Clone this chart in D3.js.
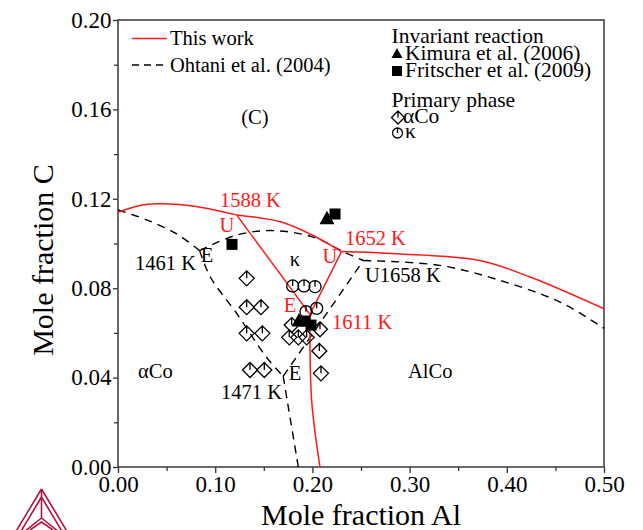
<!DOCTYPE html>
<html>
<head>
<meta charset="utf-8">
<script src="https://cdn.jsdelivr.net/npm/d3@7"></script>
<style>
  body { margin: 0; background: #fff; }
  text { font-family: "Liberation Serif", "Times New Roman", serif; }
</style>
</head>
<body>
<div id="chart"></div>
<script>
// Al-Co-C liquidus projection, Co-rich corner

// --- this work (red, solid)
var redLiqLeft   = [[0, 0.114], [0.025, 0.1172], [0.046, 0.1178], [0.08, 0.1166], [0.122, 0.1128]];
var redLiqMid    = [[0.122, 0.1128], [0.167, 0.1097], [0.2006, 0.1036], [0.230, 0.0964]];
var redLiqRight  = [[0.230, 0.0964], [0.2867, 0.0954], [0.372, 0.0924], [0.424, 0.0850], [0.50, 0.0708]];
var redU1588toE  = [[0.122, 0.1128], [0.1975, 0.0683]];
var redU1652toE  = [[0.230, 0.0964], [0.1975, 0.0683]];
var redEtoBottom = [[0.1975, 0.0683], [0.1992, 0.0299], [0.2078, 0]];

// --- Ohtani et al. (2004) (black, dashed)
var ohtLiqLeft   = [[0, 0.1150], [0.030, 0.1105], [0.060, 0.1044], [0.084, 0.0968]];
var ohtTop       = [[0.084, 0.0968], [0.120, 0.1035], [0.156, 0.1058], [0.200, 0.1030], [0.2335, 0.0960], [0.2524, 0.0924]];
var ohtLiqRight  = [[0.2524, 0.0924], [0.331, 0.0902], [0.393, 0.0835], [0.4547, 0.0738], [0.50, 0.0620]];
var ohtE1461toE  = [[0.084, 0.0968], [0.095, 0.0850], [0.122, 0.0688], [0.153, 0.0490], [0.170, 0.0406]];
var ohtEtoU1658  = [[0.170, 0.0406], [0.2524, 0.0924]];
var ohtEtoBottom = [[0.170, 0.0406], [0.174, 0.0300], [0.1855, 0]];

// --- experimental points
var kimuraTri = [[0.2150, 0.1110], [0.1862, 0.0653]];
var fritscherSq = [[0.2233, 0.1132], [0.1173, 0.0996], [0.1924, 0.0653], [0.1986, 0.0635]];
var primaryCo = [[0.1324, 0.0844], [0.1324, 0.0715], [0.1471, 0.0715], [0.1324, 0.0598], [0.1485, 0.0598],
                 [0.1358, 0.0434], [0.1505, 0.0434], [0.1787, 0.0635], [0.1762, 0.0580], [0.1855, 0.0580],
                 [0.1941, 0.0580], [0.2078, 0.0616], [0.2071, 0.0519], [0.2088, 0.0419]];
var primaryKappa = [[0.1797, 0.0810], [0.1914, 0.0810], [0.2027, 0.0807], [0.1934, 0.0695], [0.2044, 0.0710]];

var xTicks = [0, 0.1, 0.2, 0.3, 0.4, 0.5];
var yTicks = [0, 0.04, 0.08, 0.12, 0.16, 0.2];

// labels anchored in data space: [text, x, y, colour, anchor]
var annotations = [
  ["1588 K", 0.1049, 0.1163, "red", "start"],
  ["U", 0.1121, 0.1051, "red", "middle"],
  ["1652 K", 0.2335, 0.0993, "red", "start"],
  ["U", 0.2181, 0.0913, "red", "middle"],
  ["E", 0.1770, 0.0694, "red", "middle"],
  ["1611 K", 0.2202, 0.0617, "red", "start"],
  ["E", 0.0916, 0.0917, "black", "middle"],
  ["1461 K", 0.0175, 0.0881, "black", "start"],
  ["\u03ba", 0.1821, 0.0899, "black", "middle"],
  ["U1658 K", 0.2541, 0.0828, "black", "start"],
  ["E", 0.1821, 0.0389, "black", "middle"],
  ["1471 K", 0.1060, 0.0304, "black", "start"],
  ["(C)", 0.1409, 0.1535, "black", "middle"],
  ["\u03b1Co", 0.0206, 0.0398, "black", "start"],
  ["AlCo", 0.2984, 0.0398, "black", "start"]
];

var W = 643, H = 530;
var pL = 118, pR = 604, pT = 20, pB = 467;
var RED = "#ff1a1a";
var SERIF = "'Liberation Serif', 'Times New Roman', serif";

var svg = d3.select("#chart").append("svg").attr("width", W).attr("height", H);

var x = d3.scaleLinear().domain([0, 0.5]).range([pL, pR]);
var y = d3.scaleLinear().domain([0, 0.2]).range([pB, pT]);

// minor ticks
var xMinor = d3.range(0.05, 0.5, 0.1);
var yMinor = d3.range(0.02, 0.2, 0.04);

var xAxis = svg.append("g").attr("transform", "translate(0," + pB + ")")
  .call(d3.axisBottom(x).tickValues(xTicks).tickFormat(d3.format(".2f")).tickSize(6).tickSizeOuter(0).tickPadding(3));
var xAxisMinor = svg.append("g").attr("transform", "translate(0," + pB + ")")
  .call(d3.axisBottom(x).tickValues(xMinor).tickFormat("").tickSize(4).tickSizeOuter(0));
var yAxis = svg.append("g").attr("transform", "translate(" + pL + ",0)")
  .call(d3.axisLeft(y).tickValues(yTicks).tickFormat(d3.format(".2f")).tickSize(5).tickSizeOuter(0).tickPadding(1.5));
var yAxisMinor = svg.append("g").attr("transform", "translate(" + pL + ",0)")
  .call(d3.axisLeft(y).tickValues(yMinor).tickFormat("").tickSize(4).tickSizeOuter(0));

[xAxis, xAxisMinor, yAxis, yAxisMinor].forEach(function(g){
  g.attr("font-family", SERIF).attr("font-size", 23);
  g.select(".domain").remove();
  g.selectAll("line").attr("stroke", "#333").attr("stroke-width", 1.3);
  g.selectAll("text").attr("fill", "#000").style("font-size", "23px").style("font-family", SERIF);
});

// frame
svg.append("rect").attr("x", pL).attr("y", pT).attr("width", pR - pL).attr("height", pB - pT)
  .attr("fill", "none").attr("stroke", "#3a3a3a").attr("stroke-width", 1.5);

// axis titles
svg.append("text").attr("x", (pL + pR) / 2).attr("y", 525).attr("text-anchor", "middle")
  .style("font-size", "30px").text("Mole fraction Al");
svg.append("text").attr("transform", "translate(53,260) rotate(-90)").attr("text-anchor", "middle")
  .style("font-size", "30px").text("Mole fraction C");

// curves
var line = d3.line().x(function(d){ return x(d[0]); }).y(function(d){ return y(d[1]); })
  .curve(d3.curveCatmullRom.alpha(0.5));

var plot = svg.append("g");

[ohtLiqLeft, ohtTop, ohtLiqRight, ohtE1461toE, ohtEtoU1658, ohtEtoBottom].forEach(function(d){
  plot.append("path").attr("d", line(d)).attr("fill", "none").attr("stroke", "#000")
    .attr("stroke-width", 1.4).attr("stroke-dasharray", "8,6");
});
[redLiqLeft, redLiqMid, redLiqRight, redU1588toE, redU1652toE, redEtoBottom].forEach(function(d){
  plot.append("path").attr("d", line(d)).attr("fill", "none").attr("stroke", RED).attr("stroke-width", 1.5);
});

// marker shapes
function diamondPath(cx, cy, r) {
  return "M" + cx + "," + (cy - r) + "L" + (cx + r) + "," + cy + "L" + cx + "," + (cy + r) + "L" + (cx - r) + "," + cy + "Z"
    + "M" + cx + "," + (cy - r) + "L" + cx + "," + cy;
}
function circlePath(cx, cy, r) {
  return "M" + (cx - r) + "," + cy + "A" + r + "," + r + " 0 1,0 " + (cx + r) + "," + cy
    + "A" + r + "," + r + " 0 1,0 " + (cx - r) + "," + cy
    + "M" + cx + "," + (cy - r) + "L" + cx + "," + cy;
}
function triPath(cx, cy, s) {
  var h = s * 0.9;
  return "M" + cx + "," + (cy - h * 0.6) + "L" + (cx + s / 2) + "," + (cy + h * 0.4) + "L" + (cx - s / 2) + "," + (cy + h * 0.4) + "Z";
}

plot.selectAll("path.co").data(primaryCo).enter().append("path").attr("class", "co")
  .attr("d", function(d){ return diamondPath(x(d[0]), y(d[1]), 7.5); })
  .attr("fill", "none").attr("stroke", "#000").attr("stroke-width", 1.3);
plot.selectAll("path.kappa").data(primaryKappa).enter().append("path").attr("class", "kappa")
  .attr("d", function(d){ return circlePath(x(d[0]), y(d[1]), 6); })
  .attr("fill", "none").attr("stroke", "#000").attr("stroke-width", 1.3);
plot.selectAll("path.tri").data(kimuraTri).enter().append("path").attr("class", "tri")
  .attr("d", function(d){ return triPath(x(d[0]), y(d[1]), 15); }).attr("fill", "#000");
plot.selectAll("rect.sq").data(fritscherSq).enter().append("rect").attr("class", "sq")
  .attr("x", function(d){ return x(d[0]) - 5.5; }).attr("y", function(d){ return y(d[1]) - 5.5; })
  .attr("width", 11).attr("height", 11).attr("fill", "#000");

// annotations
svg.selectAll("text.ann").data(annotations).enter().append("text").attr("class", "ann")
  .attr("x", function(d){ return x(d[1]); }).attr("y", function(d){ return y(d[2]); })
  .attr("text-anchor", function(d){ return d[4]; })
  .attr("fill", function(d){ return d[3] === "red" ? RED : "#000"; })
  .style("font-size", "20.5px").text(function(d){ return d[0]; });

// legend, left
var lg = svg.append("g").style("font-size", "20.5px");
lg.append("line").attr("x1", 132).attr("x2", 167).attr("y1", 38.5).attr("y2", 38.5).attr("stroke", RED).attr("stroke-width", 1.5);
lg.append("text").attr("x", 170).attr("y", 45).text("This work");
lg.append("line").attr("x1", 132).attr("x2", 167).attr("y1", 65).attr("y2", 65).attr("stroke", "#000")
  .attr("stroke-width", 1.4).attr("stroke-dasharray", "7,5");
lg.append("text").attr("x", 170).attr("y", 71.5).text("Ohtani et al. (2004)");

// legend, right
var rg = svg.append("g").style("font-size", "21.5px");
rg.append("text").attr("x", 391.5).attr("y", 43).text("Invariant reaction");
rg.append("path").attr("d", triPath(397, 54, 11)).attr("fill", "#000");
rg.append("text").attr("x", 405).attr("y", 59.5).text("Kimura et al. (2006)");
rg.append("rect").attr("x", 392).attr("y", 66).attr("width", 10).attr("height", 10).attr("fill", "#000");
rg.append("text").attr("x", 405).attr("y", 76.5).text("Fritscher et al. (2009)");
rg.append("text").attr("x", 391.5).attr("y", 107).text("Primary phase");
rg.append("path").attr("d", diamondPath(398, 117.5, 6.5)).attr("fill", "none").attr("stroke", "#000").attr("stroke-width", 1.3);
rg.append("text").attr("x", 403).attr("y", 123).text("\u03b1Co");
rg.append("path").attr("d", circlePath(397.5, 133, 5)).attr("fill", "none").attr("stroke", "#000").attr("stroke-width", 1.3);
rg.append("text").attr("x", 405).attr("y", 137.5).text("\u03ba");

// logo in the lower left corner
var logo = svg.append("g").attr("fill", "none").attr("stroke", "#b3133f").attr("stroke-width", 1.6);
logo.append("path").attr("d", "M41.5,489L6,548M41.5,489L77,548");
logo.append("path").attr("d", "M41.5,497L14,543M41.5,497L69,543");
logo.append("path").attr("d", "M41.5,489L41.5,518M41.5,518L24,532M41.5,518L59,532");
logo.append("path").attr("d", "M30,530L41.5,522L53,530");
</script>
</body>
</html>
